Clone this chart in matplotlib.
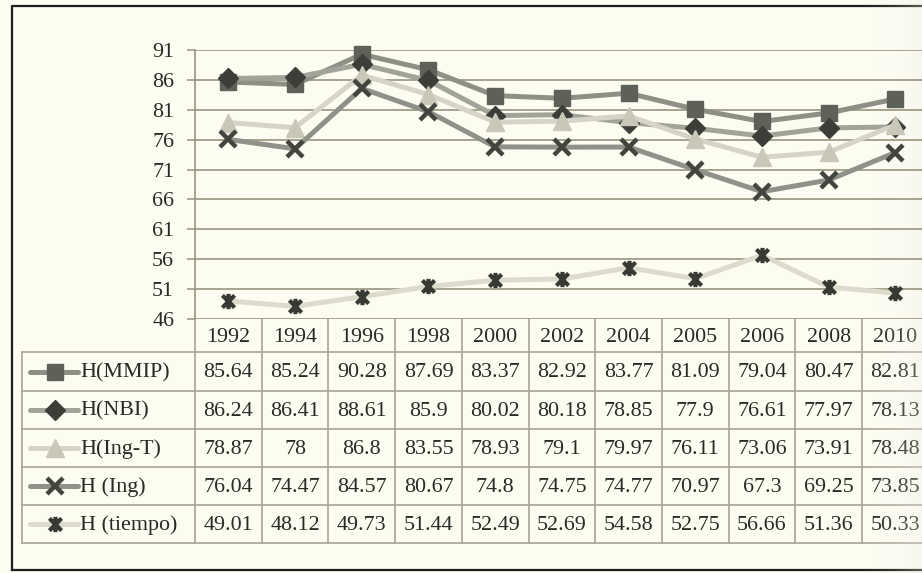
import matplotlib
matplotlib.use("Agg")
import matplotlib.pyplot as plt
from matplotlib.path import Path
from matplotlib.transforms import blended_transform_factory
import numpy as np

# ---- data -------------------------------------------------------------
years = ['1992', '1994', '1996', '1998', '2000', '2002', '2004', '2005',
         '2006', '2008', '2010']
mmip = [85.64, 85.24, 90.28, 87.69, 83.37, 82.92, 83.77, 81.09, 79.04, 80.47, 82.81]
nbi = [86.24, 86.41, 88.61, 85.9, 80.02, 80.18, 78.85, 77.9, 76.61, 77.97, 78.13]
ing_t = [78.87, 78, 86.8, 83.55, 78.93, 79.1, 79.97, 76.11, 73.06, 73.91, 78.48]
ing = [76.04, 74.47, 84.57, 80.67, 74.8, 74.75, 74.77, 70.97, 67.3, 69.25, 73.85]
tiempo = [49.01, 48.12, 49.73, 51.44, 52.49, 52.69, 54.58, 52.75, 56.66, 51.36, 50.33]
series_names = ['H(MMIP)', 'H(NBI)', 'H(Ing-T)', 'H (Ing)', 'H (tiempo)']
y_ticks = [46, 51, 56, 61, 66, 71, 76, 81, 86, 91]

# ---- styling ----------------------------------------------------------
BG = '#fdfcf1'
GRID = '#97947f'
TABLE_LINE = '#a8a595'
TEXT = '#2a2a26'
FS = 15.8
LW = 3.6
plt.rcParams['font.family'] = ['Liberation Serif', 'DejaVu Serif']

# asterisk-like marker: an X with a vertical stroke through it
star_path = Path(
    [(-1, -1), (1, 1), (-1, 1), (1, -1), (0, -1.25), (0, 1.25)],
    [Path.MOVETO, Path.LINETO, Path.MOVETO, Path.LINETO, Path.MOVETO, Path.LINETO])

styles = [
    dict(color='#8e9085', marker='s', ms=12, mfc='#5e6158', mec='#5e6158', mew=1),
    dict(color='#a2a399', marker='D', ms=10, mfc='#3b3f38', mec='#3b3f38', mew=1),
    dict(color='#d6d4c6', marker='^', ms=13, mfc='#c9c7b8', mec='#c9c7b8', mew=1),
    dict(color='#909289', marker='x', ms=11, mfc='none', mec='#42453d', mew=3.2),
    dict(color='#dcdbcc', marker=star_path, ms=11, mfc='none', mec='#363a32', mew=3.0),
]
data = [mmip, nbi, ing_t, ing, tiempo]

W, H = 922, 573
fig = plt.figure(figsize=(W / 100, H / 100), dpi=100)
fig.patch.set_facecolor(BG)

# pixel-based overlay for the frame and table
over = fig.add_axes([0, 0, 1, 1], zorder=0)
over.set_xlim(0, W)
over.set_ylim(H, 0)
over.axis('off')
over.patch.set_alpha(0)

# ---- plot area -------------------------------------------------------
ax_left = 195
col_w = 66.7
ax_right = ax_left + col_w * len(years)
ax_top, ax_bottom = 50, 319
ax = fig.add_axes([ax_left / W, 1 - ax_bottom / H,
                   (ax_right - ax_left) / W, (ax_bottom - ax_top) / H], zorder=2)
ax.patch.set_alpha(0)
x = np.arange(len(years))
ax.set_xlim(-0.5, len(years) - 0.5)
ax.set_ylim(46, 91)
ax.set_yticks(y_ticks)
ax.set_yticklabels([str(t) for t in y_ticks], fontsize=FS, color=TEXT)
ax.tick_params(axis='y', length=6, width=1.1, color=GRID, pad=9)
ax.set_xticks([])
for t in y_ticks:
    ax.axhline(t, color=GRID, lw=1.2, zorder=1)
for s in ['top', 'right', 'bottom']:
    ax.spines[s].set_visible(False)
ax.spines['left'].set_color(GRID)
ax.spines['left'].set_linewidth(1.2)

for vals, st in zip(data, styles):
    ax.plot(x, vals, lw=LW, color=st['color'], marker=st['marker'],
            ms=st['ms'], mfc=st['mfc'], mec=st['mec'], mew=st['mew'],
            solid_joinstyle='round', zorder=3, clip_on=False)

# ---- data table ------------------------------------------------------
tr = blended_transform_factory(ax.transData, over.transData)
row_edges = [319, 352, 391, 429, 467, 505, 543]
label_left = 22

# column separators
for i in range(len(years) + 1):
    xe = i - 0.5
    over.plot([xe, xe], [row_edges[0], row_edges[-1]], color=TABLE_LINE,
              lw=1.2, transform=tr, clip_on=False)
for j, yr in enumerate(years):
    over.text(j, (row_edges[0] + row_edges[1]) / 2 + 2, yr, transform=tr,
              ha='center', va='center', fontsize=FS, color=TEXT)

# horizontal rules for body rows
for ye in row_edges[1:]:
    over.plot([label_left, ax_right + 20], [ye, ye], color=TABLE_LINE, lw=1.2,
              clip_on=False)
over.plot([label_left, label_left], [row_edges[1], row_edges[-1]],
          color=TABLE_LINE, lw=1.2)

for r, (name, vals, st) in enumerate(zip(series_names, data, styles)):
    yc = (row_edges[r + 1] + row_edges[r + 2]) / 2
    # legend key: short line with the marker
    over.plot([30, 78], [yc, yc], color=st['color'], lw=LW,
              solid_capstyle='round')
    over.plot([55], [yc], marker=st['marker'], ms=st['ms'], mfc=st['mfc'],
              mec=st['mec'], mew=st['mew'], color=st['color'])
    over.text(80, yc + 1, name, ha='left', va='center', fontsize=FS,
              color=TEXT)
    for j, v in enumerate(vals):
        over.text(j, yc + 1, f'{v:g}', transform=tr, ha='center',
                  va='center', fontsize=FS, color=TEXT)

# outer frame
over.plot([12, 12, W + 5], [570, 6, 6], color='#1e1e1c', lw=1.6,
          clip_on=False)
over.plot([12, W + 5], [570, 570], color='#1e1e1c', lw=1.6, clip_on=False)

# soft shading toward the right edge of the page
shade = np.linspace(0, 1, 256) ** 2
over.imshow(shade[np.newaxis, :], extent=[850, W, H, 0], cmap='Greys',
            vmin=0, vmax=6, alpha=shade[np.newaxis, :] * 0.3, aspect='auto',
            zorder=5, interpolation='bilinear')
over.set_xlim(0, W)
over.set_ylim(H, 0)

fig.savefig('out.png', dpi=100, facecolor=BG)
